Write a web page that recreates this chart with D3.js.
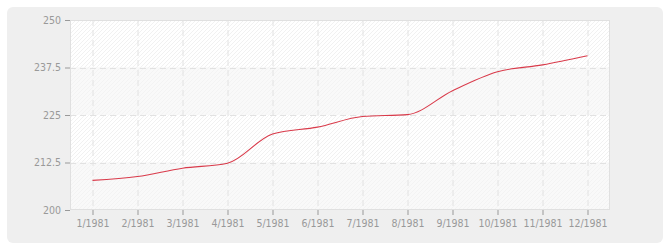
<!DOCTYPE html>
<html><head><meta charset="utf-8">
<script src="https://cdn.jsdelivr.net/npm/d3@7"></script>
<style>
html,body{margin:0;padding:0;background:#fff;}
svg{display:block;}
</style></head>
<body>
<svg id="chart" width="670" height="250"></svg>
<script>
const categories = ["1/1981","2/1981","3/1981","4/1981","5/1981","6/1981","7/1981","8/1981","9/1981","10/1981","11/1981","12/1981"];
const values = [207.8, 208.8, 211.0, 212.3, 220.0, 221.8, 224.6, 225.1, 231.4, 236.4, 238.2, 240.6];
const yTicks = [200, 212.5, 225, 237.5, 250];

const svg = d3.select("#chart");
const W = 670, H = 250;
const m = {left:70, right:60, top:20, bottom:40};
const pw = W - m.left - m.right, ph = H - m.top - m.bottom;

const defs = svg.append("defs");
function hatch(id, bg, line){
  const p = defs.append("pattern").attr("id", id).attr("patternUnits","userSpaceOnUse")
    .attr("width",4).attr("height",4);
  p.append("rect").attr("width",4).attr("height",4).attr("fill",bg);
  p.append("path").attr("d","M-1,1 l2,-2 M0,4 l4,-4 M3,5 l2,-2").attr("stroke",line).attr("stroke-width",1);
}
hatch("hA","#ffffff","#f1f1f1");
hatch("hB","#f9f9f9","#f3f3f3");

svg.append("rect").attr("x",7).attr("y",7).attr("width",656).attr("height",236)
  .attr("rx",6).attr("fill","#efefef");

const x = d3.scalePoint().domain(categories).range([m.left, m.left+pw]).padding(0.5);
const y = d3.scaleLinear().domain([200,250]).range([m.top+ph, m.top]);

const g = svg.append("g");
// bands
for(let i=0;i<yTicks.length-1;i++){
  const top = y(yTicks[i+1]), bot = y(yTicks[i]);
  g.append("rect").attr("x",m.left).attr("y",top).attr("width",pw).attr("height",bot-top)
    .attr("fill", (i%2===1)?"url(#hA)":"url(#hB)");
}
// grid
g.selectAll(".vg").data(categories).join("line")
  .attr("x1",d=>x(d)+0.5).attr("x2",d=>x(d)+0.5).attr("y1",m.top).attr("y2",m.top+ph)
  .attr("stroke","#e2e2e2").attr("stroke-dasharray","6,4");
g.selectAll(".hg").data(yTicks.slice(1,-1)).join("line")
  .attr("x1",m.left).attr("x2",m.left+pw).attr("y1",d=>Math.round(y(d))+0.5).attr("y2",d=>Math.round(y(d))+0.5)
  .attr("stroke","#e2e2e2").attr("stroke-dasharray","6,4");
// border
g.append("rect").attr("x",m.left+0.5).attr("y",m.top+0.5).attr("width",pw-1).attr("height",ph-1)
  .attr("fill","none").attr("stroke","#e0e0e0");

// axes
const font = "DejaVu Sans Condensed, DejaVu Sans, sans-serif";
const yAxis = svg.append("g").attr("transform",`translate(${m.left},0)`)
  .call(d3.axisLeft(y).tickValues(yTicks).tickSize(5).tickPadding(4).tickFormat(d=>String(d)));
const xAxis = svg.append("g").attr("transform",`translate(0,${m.top+ph})`)
  .call(d3.axisBottom(x).tickSize(5).tickPadding(5));
[yAxis,xAxis].forEach(a=>{
  a.select(".domain").remove();
  a.selectAll(".tick line").attr("stroke","#999");
  a.selectAll(".tick text").attr("fill","#999").style("font-family",font).style("font-size","10.5px");
});

// line
const line = d3.line().x((d,i)=>x(categories[i])).y(d=>y(d)).curve(d3.curveMonotoneX);
svg.append("path").datum(values).attr("d",line).attr("fill","none")
  .attr("stroke","#d93a4a").attr("stroke-width",1.1);
</script>
</body></html>
